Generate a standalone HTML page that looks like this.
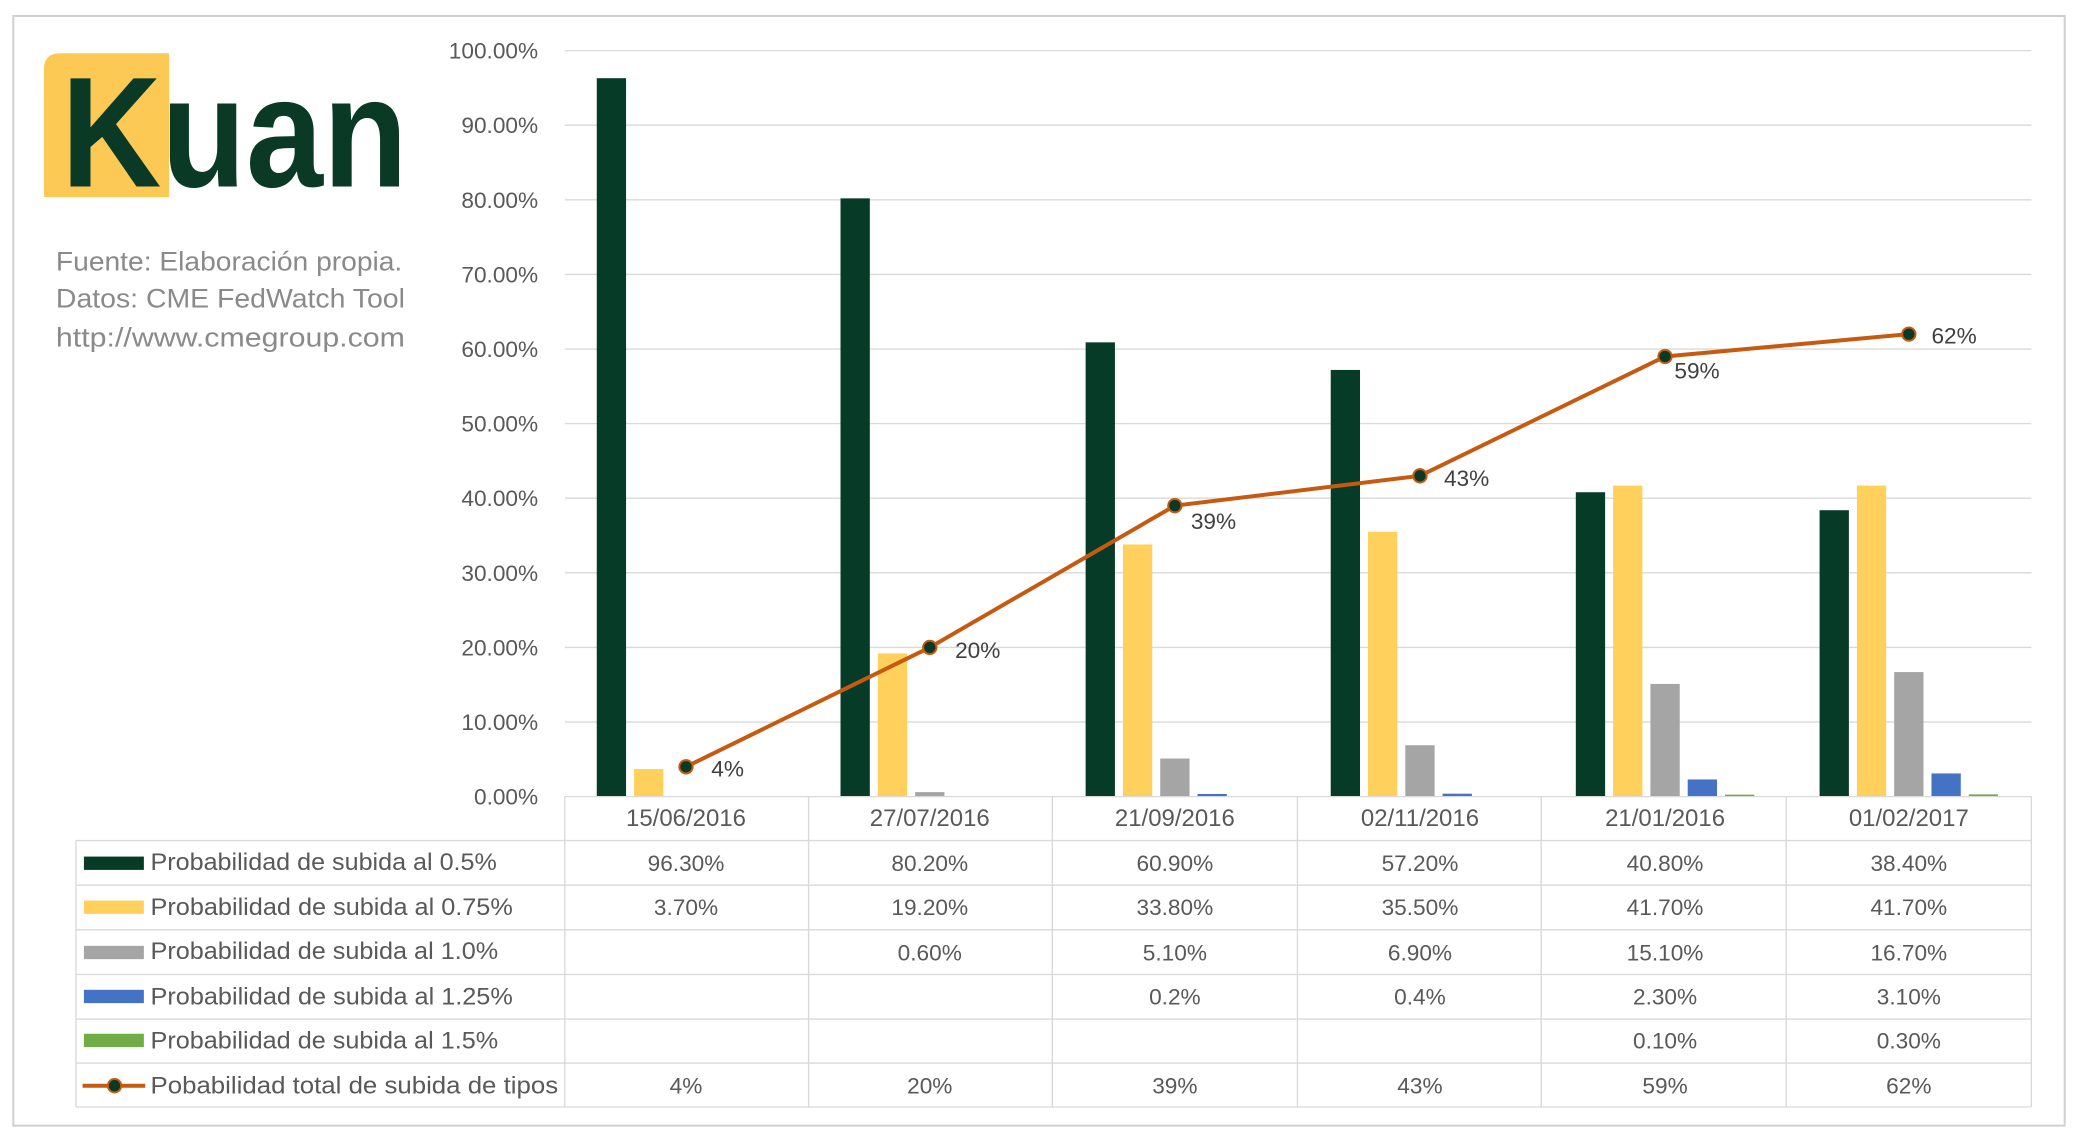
<!DOCTYPE html>
<html><head><meta charset="utf-8"><style>html,body{margin:0;padding:0;background:#fff}svg{display:block}</style></head>
<body>
<svg width="2078" height="1131" viewBox="0 0 1560 849" preserveAspectRatio="none" xmlns="http://www.w3.org/2000/svg" font-family="Liberation Sans, sans-serif">
<rect x="0" y="0" width="1560" height="849" fill="#fff"/>
<rect x="10" y="12" width="1540" height="833" fill="none" stroke="#d0d0d0" stroke-width="1.5"/>
<!-- logo -->
<path d="M45 40 H127 V148 H33 V52 Q33 40 45 40 Z" fill="#fdc955"/>
<text x="46" y="140" font-size="118" font-weight="bold" fill="#0a3a26" textLength="260" lengthAdjust="spacingAndGlyphs">Kuan</text>
<g font-size="20" fill="#8a8a8a">
<text x="42" y="203" textLength="260" lengthAdjust="spacingAndGlyphs">Fuente: Elaboración propia.</text>
<text x="42" y="231" textLength="262" lengthAdjust="spacingAndGlyphs">Datos: CME  FedWatch Tool</text>
<text x="42" y="260" textLength="262" lengthAdjust="spacingAndGlyphs">http://www.cmegroup.com</text>
</g>
<!-- gridlines -->
<g stroke="#d9d9d9" stroke-width="1">
<line x1="424" y1="38" x2="1525" y2="38"/><line x1="424" y1="94" x2="1525" y2="94"/>
<line x1="424" y1="150" x2="1525" y2="150"/><line x1="424" y1="206" x2="1525" y2="206"/>
<line x1="424" y1="262" x2="1525" y2="262"/><line x1="424" y1="318" x2="1525" y2="318"/>
<line x1="424" y1="374" x2="1525" y2="374"/><line x1="424" y1="430" x2="1525" y2="430"/>
<line x1="424" y1="486" x2="1525" y2="486"/><line x1="424" y1="542" x2="1525" y2="542"/>
</g>
<g font-size="17" fill="#595959" text-anchor="end">
<text x="404" y="44">100.00%</text><text x="404" y="100">90.00%</text><text x="404" y="156">80.00%</text>
<text x="404" y="212">70.00%</text><text x="404" y="268">60.00%</text><text x="404" y="324">50.00%</text>
<text x="404" y="380">40.00%</text><text x="404" y="436">30.00%</text><text x="404" y="492">20.00%</text>
<text x="404" y="548">10.00%</text><text x="404" y="604">0.00%</text>
</g>
<!-- bars -->
<g fill="#063b27">
<rect x="448" y="58.7" width="22" height="539.3"/><rect x="631" y="148.9" width="22" height="449.1"/>
<rect x="815" y="257" width="22" height="341"/><rect x="999" y="277.7" width="22" height="320.3"/>
<rect x="1183" y="369.5" width="22" height="228.5"/><rect x="1366" y="383" width="22" height="215"/>
</g>
<g fill="#ffd05c">
<rect x="476" y="577.3" width="22" height="20.7"/><rect x="659" y="490.5" width="22" height="107.5"/>
<rect x="843" y="408.7" width="22" height="189.3"/><rect x="1027" y="399.2" width="22" height="198.8"/>
<rect x="1211" y="364.5" width="22" height="233.5"/><rect x="1394" y="364.5" width="22" height="233.5"/>
</g>
<g fill="#a5a5a5">
<rect x="687" y="594.6" width="22" height="3.4"/><rect x="871" y="569.4" width="22" height="28.6"/>
<rect x="1055" y="559.4" width="22" height="38.6"/><rect x="1239" y="513.4" width="22" height="84.6"/>
<rect x="1422" y="504.5" width="22" height="93.5"/>
</g>
<g fill="#4472c4">
<rect x="899" y="596" width="22" height="2"/><rect x="1083" y="595.8" width="22" height="2.2"/>
<rect x="1267" y="585.1" width="22" height="12.9"/><rect x="1450" y="580.6" width="22" height="17.4"/>
</g>
<g fill="#70ad47">
<rect x="1295" y="596.5" width="22" height="1.5"/><rect x="1478" y="596.3" width="22" height="1.7"/>
</g>
<!-- line -->
<polyline points="515,575.6 698,486 882,379.6 1066,357.2 1250,267.6 1433,250.8" fill="none" stroke="#c55a11" stroke-width="3"/>
<g fill="#0a3a26" stroke="#c55a11" stroke-width="1.5">
<circle cx="515" cy="575.6" r="5"/><circle cx="698" cy="486" r="5"/><circle cx="882" cy="379.6" r="5"/>
<circle cx="1066" cy="357.2" r="5"/><circle cx="1250" cy="267.6" r="5"/><circle cx="1433" cy="250.8" r="5"/>
</g>
<g font-size="17" fill="#404040">
<text x="534" y="583">4%</text><text x="717" y="494">20%</text><text x="894" y="397">39%</text>
<text x="1084" y="365">43%</text><text x="1257" y="284">59%</text><text x="1450" y="258">62%</text>
</g>
<!-- table -->
<g stroke="#d9d9d9" stroke-width="1" fill="none">
<line x1="424" y1="598" x2="1525" y2="598"/>
<line x1="57" y1="631" x2="1525" y2="631"/><line x1="57" y1="664.5" x2="1525" y2="664.5"/>
<line x1="57" y1="698" x2="1525" y2="698"/><line x1="57" y1="731.5" x2="1525" y2="731.5"/>
<line x1="57" y1="765" x2="1525" y2="765"/><line x1="57" y1="798" x2="1525" y2="798"/>
<line x1="57" y1="831" x2="1525" y2="831"/>
<line x1="57" y1="631" x2="57" y2="831"/>
<line x1="424" y1="598" x2="424" y2="831"/><line x1="607" y1="598" x2="607" y2="831"/>
<line x1="790" y1="598" x2="790" y2="831"/><line x1="974" y1="598" x2="974" y2="831"/>
<line x1="1157" y1="598" x2="1157" y2="831"/><line x1="1341" y1="598" x2="1341" y2="831"/>
<line x1="1525" y1="598" x2="1525" y2="831"/>
</g>
<g font-size="17" fill="#595959" text-anchor="middle">
<g font-size="18">
<text x="515" y="620">15/06/2016</text><text x="698" y="620">27/07/2016</text><text x="882" y="620">21/09/2016</text>
<text x="1066" y="620">02/11/2016</text><text x="1250" y="620">21/01/2016</text><text x="1433" y="620">01/02/2017</text>
</g>
<text x="515" y="654">96.30%</text><text x="698" y="654">80.20%</text><text x="882" y="654">60.90%</text><text x="1066" y="654">57.20%</text><text x="1250" y="654">40.80%</text><text x="1433" y="654">38.40%</text>
<text x="515" y="687">3.70%</text><text x="698" y="687">19.20%</text><text x="882" y="687">33.80%</text><text x="1066" y="687">35.50%</text><text x="1250" y="687">41.70%</text><text x="1433" y="687">41.70%</text>
<text x="698" y="721">0.60%</text><text x="882" y="721">5.10%</text><text x="1066" y="721">6.90%</text><text x="1250" y="721">15.10%</text><text x="1433" y="721">16.70%</text>
<text x="882" y="754">0.2%</text><text x="1066" y="754">0.4%</text><text x="1250" y="754">2.30%</text><text x="1433" y="754">3.10%</text>
<text x="1250" y="787">0.10%</text><text x="1433" y="787">0.30%</text>
<text x="515" y="821">4%</text><text x="698" y="821">20%</text><text x="882" y="821">39%</text><text x="1066" y="821">43%</text><text x="1250" y="821">59%</text><text x="1433" y="821">62%</text>
</g>
<rect x="63" y="643" width="45" height="10" fill="#063b27"/>
<rect x="63" y="676" width="45" height="10" fill="#ffd05c"/>
<rect x="63" y="710" width="45" height="10" fill="#a5a5a5"/>
<rect x="63" y="743" width="45" height="10" fill="#4472c4"/>
<rect x="63" y="776" width="45" height="10" fill="#70ad47"/>
<line x1="62" y1="815" x2="109" y2="815" stroke="#c55a11" stroke-width="3"/>
<circle cx="86" cy="815" r="5" fill="#0a3a26" stroke="#c55a11" stroke-width="1.5"/>
<g font-size="18" fill="#595959">
<text x="113" y="653" textLength="260" lengthAdjust="spacingAndGlyphs">Probabilidad de subida al 0.5%</text>
<text x="113" y="687" textLength="272" lengthAdjust="spacingAndGlyphs">Probabilidad de subida al 0.75%</text>
<text x="113" y="720" textLength="261" lengthAdjust="spacingAndGlyphs">Probabilidad de subida al 1.0%</text>
<text x="113" y="754" textLength="272" lengthAdjust="spacingAndGlyphs">Probabilidad de subida al 1.25%</text>
<text x="113" y="787" textLength="261" lengthAdjust="spacingAndGlyphs">Probabilidad de subida al 1.5%</text>
<text x="113" y="821" textLength="306" lengthAdjust="spacingAndGlyphs">Pobabilidad total de subida de tipos</text>
</g>
</svg>
</body></html>
